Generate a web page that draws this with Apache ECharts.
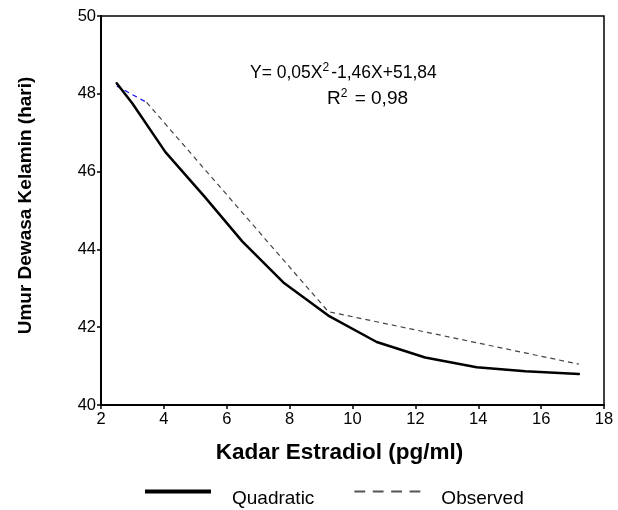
<!DOCTYPE html>
<html><head><meta charset="utf-8">
<script src="https://cdn.jsdelivr.net/npm/echarts@6/dist/echarts.min.js"></script>
<style>html,body{margin:0;padding:0;background:#fff}#c{width:618px;height:510px}</style>
</head><body><div id="c"></div>
<script>
var xTicks = [2, 4, 6, 8, 10, 12, 14, 16, 18];
var yTicks = [40, 42, 44, 46, 48, 50];
var quadX = [2.5, 3.0, 4.05, 5.3, 6.5, 7.8, 9.23, 10.77, 12.31, 13.95, 15.5, 17.2];
var quadY = [48.27, 47.75, 46.5, 45.35, 44.2, 43.15, 42.3, 41.62, 41.22, 40.97, 40.87, 40.8];
var obsStartX = [2.5, 3.45];
var obsStartY = [48.2, 47.78];
var obsX = [3.45, 9.23, 17.2];
var obsY = [47.78, 42.4, 41.05];
var equation = "Y= 0,05X{sup|2}-1,46X+51,84";
var rsq = "R{sup|2} = 0,98";

function pairs(xs, ys){ return xs.map(function(x,i){return [x, ys[i]];}); }
var F = "Liberation Sans, Arial, sans-serif";
var richSup = {sup: {fontSize: 12, verticalAlign: 'top', lineHeight: 22, fontFamily: F, color: '#000', padding: [0, 2, 0, 0]}};
var chart = echarts.init(document.getElementById('c'));
chart.setOption({
  animation: false,
  backgroundColor: '#fff',
  textStyle: {fontFamily: F},
  grid: {left: 101, right: 14, top: 16, bottom: 105, show: true, borderColor: '#000', borderWidth: 1.5, backgroundColor: 'transparent'},
  xAxis: {
    type: 'value', min: xTicks[0], max: xTicks[xTicks.length-1], interval: 2,
    name: 'Kadar Estradiol (pg/ml)', nameLocation: 'middle', nameGap: 36,
    nameTextStyle: {fontSize: 22.5, fontWeight: 'bold', color: '#000', fontFamily: F, padding: [0, 26, 0, 0]},
    axisLine: {lineStyle: {color: '#000', width: 2}},
    axisTick: {inside: false, length: 4, lineStyle: {color: '#000', width: 1.5}},
    axisLabel: {fontSize: 16.5, color: '#000', margin: 6, fontFamily: F},
    splitLine: {show: false}
  },
  yAxis: {
    type: 'value', min: yTicks[0], max: yTicks[yTicks.length-1], interval: 2,
    name: 'Umur Dewasa Kelamin (hari)', nameLocation: 'middle', nameGap: 66,
    nameTextStyle: {fontSize: 19, fontWeight: 'bold', color: '#000', fontFamily: F, padding: [0, 0, 0, 10]},
    axisLine: {show: true, lineStyle: {color: '#000', width: 2}},
    axisTick: {show: true, inside: false, length: 4, lineStyle: {color: '#000', width: 1.5}},
    axisLabel: {fontSize: 16.5, color: '#000', margin: 5, fontFamily: F},
    splitLine: {show: false}
  },
  legend: {
    top: 489, left: 145, padding: 0, itemWidth: 66, itemHeight: 4, itemGap: 40,
    formatter: '{t|{name}}',
    textStyle: {fontSize: 19, color: '#000', fontFamily: F, padding: [0, 0, 0, 16],
      rich: {t: {fontSize: 19, color: '#000', fontFamily: F, padding: [14, 0, 0, 0]}}},
    data: [
      {name: 'Quadratic', icon: 'path://M0,0 L66,0 L66,4 L0,4 Z', itemStyle: {color: '#000'}},
      {name: 'Observed', icon: 'path://M0,0h10v2h-10z M17,0h10v2h-10z M34,0h10v2h-10z M51,0h10v2h-10z', itemStyle: {color: '#555'}}
    ]
  },
  series: [
    {name: 'Quadratic', type: 'line', data: pairs(quadX, quadY), symbol: 'none',
     lineStyle: {color: '#000', width: 2.5, cap: 'round', join: 'round'}, itemStyle: {color: '#000'}, z: 3},
    {name: 'Observed', type: 'line', data: pairs(obsX, obsY), symbol: 'none',
     lineStyle: {color: '#444', width: 1.2, type: [5, 4]}, itemStyle: {color: '#444'}, z: 2},
    {name: 'obsStart', type: 'line', data: pairs(obsStartX, obsStartY), symbol: 'none',
     lineStyle: {color: '#1010ee', width: 1.2, type: [5, 4]}, z: 2}
  ],
  graphic: [
    {type: 'text', left: 250, top: 62, style: {text: equation, fontSize: 17.5, lineHeight: 22, fill: '#000', fontFamily: F, rich: richSup}},
    {type: 'text', left: 327, top: 88, style: {text: rsq, fontSize: 19, lineHeight: 22, fill: '#000', fontFamily: F, rich: richSup}}
  ]
});
</script></body></html>
